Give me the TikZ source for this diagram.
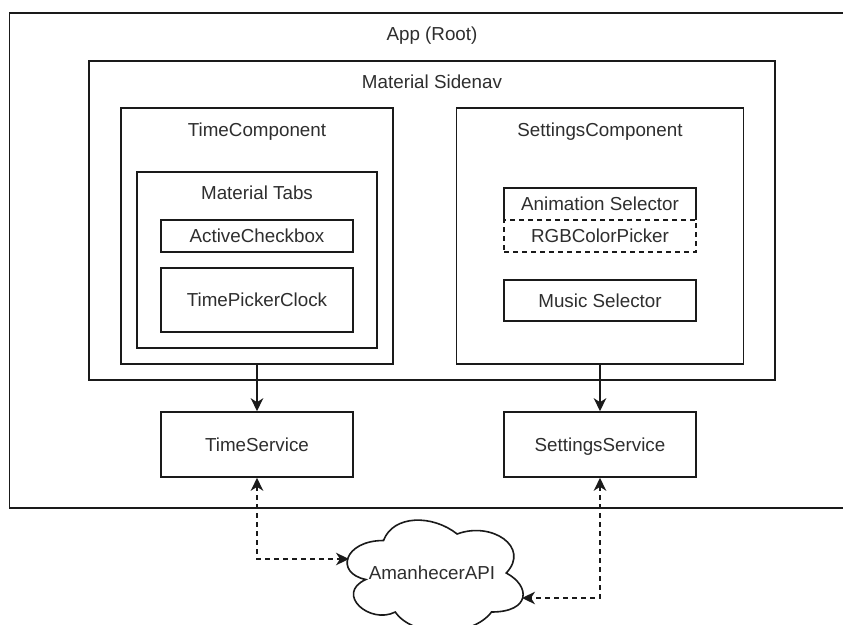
\documentclass[tikz,border=0pt]{standalone}
\usepackage{fontspec}
\setmainfont{Liberation Sans}
\usetikzlibrary{arrows.meta}
\definecolor{ink}{HTML}{1A1A1A}
\definecolor{txt}{HTML}{2E2E2E}
\begin{document}
\begin{tikzpicture}[x=1pt,y=-1pt,
  font=\fontsize{18.8}{22}\selectfont,
  box/.style={draw=ink, line width=1.6pt, text=txt, inner sep=0pt,
    text height=13.46pt, text depth=0pt},
  plainbox/.style={text=txt, inner sep=0pt, text height=13.46pt, text depth=0pt},
  title/.style={text=txt, inner sep=0pt, text height=13.46pt, text depth=0pt},
  dashline/.style={dash pattern=on 5pt off 4pt},
  tip/.tip={Stealth[length=13pt,width=12.5pt,inset=4pt]},
  flow/.style={draw=ink, line width=1.6pt, -tip},
  link/.style={draw=ink, line width=1.6pt, dashline, tip-tip},
]
% page area
\path[use as bounding box] (0,0) rectangle (843,624);
\clip (0,0) rectangle (843,624);
\fill[white] (0,0) rectangle (843,624);

% application root container (runs off the right edge)
\node[box, minimum width=845.5pt, minimum height=495.3pt] (app) at (432.25,260.35) {};
\node[title] (appT) at (432,34) {App (Root)};

% material sidenav
\node[box, minimum width=686pt, minimum height=319pt] (sidenav) at (432,220.5) {};
\node[title] (sidenavT) at (432,82) {Material Sidenav};

% time component
\node[box, minimum width=272pt, minimum height=256pt] (timeComp) at (257,236) {};
\node[title] (timeCompT) at (257,130) {TimeComponent};
\node[box, minimum width=240pt, minimum height=176pt] (tabs) at (257,260) {};
\node[title] (tabsT) at (257,193) {Material Tabs};
\node[box, minimum width=192pt, minimum height=32pt] (activeCb) at (257,236) {ActiveCheckbox};
\node[box, minimum width=192pt, minimum height=64pt] (picker) at (257,300) {TimePickerClock};

% settings component
\node[box, minimum width=287pt, minimum height=256pt] (settingsComp) at (600,236) {};
\node[title] (settingsCompT) at (600,130) {SettingsComponent};
\node[plainbox, minimum width=192pt, minimum height=32pt] (animSel) at (600,204) {Animation Selector};
\draw[ink, line width=1.6pt] (animSel.south west) |- (animSel.north east) -- (animSel.south east);
\node[box, dashline, minimum width=192pt, minimum height=32pt] (rgb) at (600,236) {RGBColorPicker};
\node[box, minimum width=192pt, minimum height=41pt] (music) at (600,300.5) {Music Selector};

% services
\node[box, minimum width=192pt, minimum height=65pt] (timeSvc) at (257,444.5) {TimeService};
\node[box, minimum width=192pt, minimum height=65pt] (settingsSvc) at (600,444.5) {SettingsService};

% external API cloud
\draw[ink, line width=1.6pt, fill=white]
  (383.5,540.5) .. controls (344.22,540.5) and (334.4,573) .. (365.82,579.5)
  .. controls (334.4,593.8) and (369.75,625) .. (395.28,612)
  .. controls (412.96,638) and (471.88,638) .. (491.52,612)
  .. controls (530.8,612) and (530.8,586) .. (506.25,573)
  .. controls (530.8,547) and (491.52,521) .. (457.15,534)
  .. controls (432.6,514.5) and (393.32,514.5) .. (383.5,540.5) -- cycle;
\node[title] (api) at (432,573) {AmanhecerAPI};
\coordinate (apiW) at (349,559);
\coordinate (apiE) at (522,598);

% connectors
\draw[flow] (timeComp.south) -- (timeSvc.north);
\draw[flow] (settingsComp.south) -- (settingsSvc.north);
\draw[link] (timeSvc.south) |- (apiW);
\draw[link] (settingsSvc.south) |- (apiE);
\end{tikzpicture}
\end{document}
